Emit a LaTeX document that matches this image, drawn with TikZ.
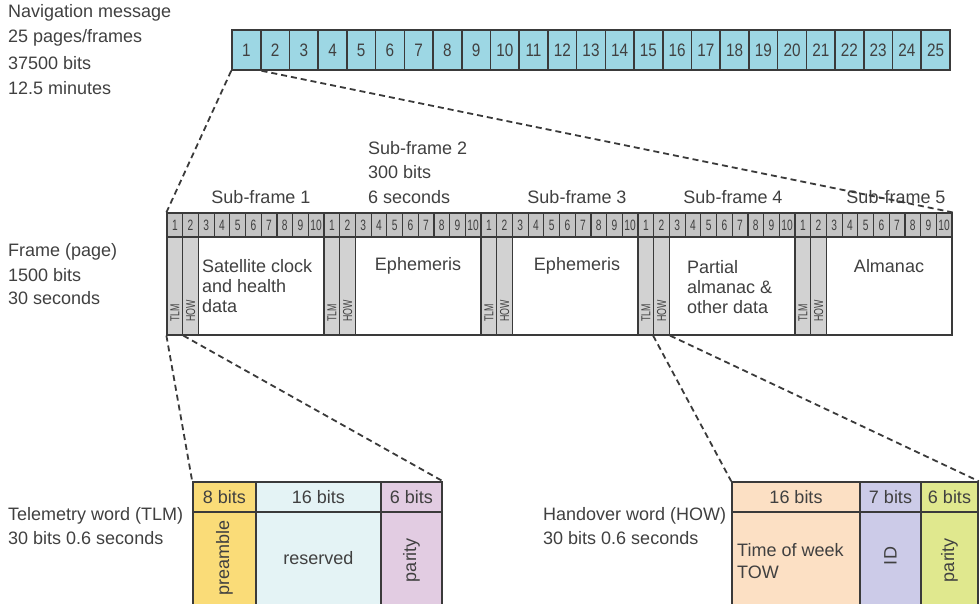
\documentclass[tikz,border=0pt]{standalone}
\usepackage{fontspec}
\setmainfont{Liberation Sans}
\newfontfamily\barf[FakeStretch=0.85]{Liberation Sans}
\newfontfamily\hdrf[FakeStretch=0.68]{Liberation Sans}
\definecolor{tc}{HTML}{404040}
\definecolor{lc}{HTML}{3A3A3A}
\definecolor{barc}{HTML}{9DD7E4}
\definecolor{hg}{HTML}{C4C4C4}
\definecolor{cg}{HTML}{D2D2D2}
\definecolor{yel}{HTML}{FADC78}
\definecolor{lcy}{HTML}{E4F3F5}
\definecolor{lpu}{HTML}{E2CCE2}
\definecolor{pea}{HTML}{FCE0C4}
\definecolor{lav}{HTML}{CCCBE8}
\definecolor{ygr}{HTML}{E0E88E}
\begin{document}
\begin{tikzpicture}[x=1pt,y=-1pt,
  txt/.style={font=\fontsize{18}{21}\selectfont, text=tc, inner sep=0pt},
  lbl/.style={txt, anchor=west},
  barcell/.style={draw=lc, line width=1.6pt, fill=barc, minimum width=28.72pt, minimum height=40pt, inner sep=0pt, font=\barf\fontsize{18}{18}\selectfont, text=tc},
  hcell/.style={draw=lc, line width=1.2pt, fill=hg, minimum width=15.7pt, minimum height=24pt, inner sep=0pt, font=\hdrf\fontsize{15}{15}\selectfont, text=tc},
  gcol/.style={draw=lc, line width=1.2pt, fill=cg, minimum width=15.7pt, minimum height=98pt, inner sep=0pt},
  dcell/.style={draw=lc, line width=1.2pt, fill=white, minimum width=125.6pt, minimum height=98pt, inner sep=0pt},
  rotw/.style={rotate=90, inner sep=0pt, font=\hdrf\fontsize{13}{13}\selectfont, text=tc},
  tabcell/.style={draw=lc, line width=1.6pt, inner sep=0pt, txt},
  rotl/.style={txt, rotate=90},
  dashln/.style={draw=lc, line width=1.8pt, dash pattern=on 6pt off 4pt}
]
\useasboundingbox (0,0) rectangle (980,604);
\clip (0,0) rectangle (980,604);

% left labels
\node[lbl] (n1) at (8,13) {Navigation message};
\node[lbl] (n2) at (8,38) {25 pages/frames};
\node[lbl] (n3) at (8,63) {37500 bits};
\node[lbl] (n4) at (8,88) {12.5 minutes};
\node[lbl] (f1) at (8,252) {Frame (page)};
\node[lbl] (f2) at (8,275) {1500 bits};
\node[lbl] (f3) at (8,298) {30 seconds};
\node[lbl] (t1) at (8,516) {Telemetry word (TLM)};
\node[lbl] (t2) at (8,538) {30 bits 0.6 seconds};
\node[lbl] (w1) at (543,516) {Handover word (HOW)};
\node[lbl] (w2) at (543,538) {30 bits 0.6 seconds};

% top bar
\foreach \i in {1,...,25} {
  \pgfmathsetmacro\cx{232+(\i-0.5)*28.72}
  \node[barcell] (c\i) at (\cx,50) {\i};
}

% frame body
\foreach \s in {1,...,5} {
  \pgfmathsetmacro\xa{167+(10*(\s-1)+0.5)*15.7}
  \pgfmathsetmacro\xb{167+(10*(\s-1)+1.5)*15.7}
  \pgfmathsetmacro\xd{167+(10*(\s-1)+6)*15.7}
  \node[gcol] (tlm\s) at (\xa,286) {};
  \node[gcol] (how\s) at (\xb,286) {};
  \node[dcell] (data\s) at (\xd,286) {};
  \node[rotw] (tlmt\s) at (\xa,313) {TLM};
  \node[rotw] (howt\s) at (\xb,311) {HOW};
}
% frame header
\foreach \s in {1,...,5} {
  \foreach \k in {1,...,10} {
    \pgfmathsetmacro\cx{167+(10*(\s-1)+\k-0.5)*15.7}
    \node[hcell] (h\s-\k) at (\cx,225) {\k};
  }
}

% sub-frame labels
\node[txt] (sf1) at (261,197) {Sub-frame 1};
\node[lbl] (sf2a) at (368,148) {Sub-frame 2};
\node[lbl] (sf2b) at (368,172) {300 bits};
\node[lbl] (sf2c) at (368,197) {6 seconds};
\node[txt] (sf3) at (577,197) {Sub-frame 3};
\node[txt] (sf4) at (733,197) {Sub-frame 4};
\node[txt] (sf5) at (896,197) {Sub-frame 5};

% data texts
\node[lbl] (d1a) at (202,266) {Satellite clock};
\node[lbl] (d1b) at (202,286) {and health};
\node[lbl] (d1c) at (202,306) {data};
\node[txt] (d2) at (418,266) {Ephemeris};
\node[txt] (d3) at (577,266) {Ephemeris};
\node[lbl] (d4a) at (687,267) {Partial};
\node[lbl] (d4b) at (687,287) {almanac \&};
\node[lbl] (d4c) at (687,307) {other data};
\node[txt] (d5) at (889,266) {Almanac};

% TLM table
\node[tabcell, fill=yel, minimum width=63pt, minimum height=96pt] (tab1) at (224.5,560) {};
\node[tabcell, fill=lcy, minimum width=125pt, minimum height=96pt] (tab2) at (318.5,560) {};
\node[tabcell, fill=lpu, minimum width=61pt, minimum height=96pt] (tab3) at (411.5,560) {};
\node[tabcell, fill=yel, minimum width=63pt, minimum height=30pt] (ta) at (224.5,497) {8 bits};
\node[tabcell, fill=lcy, minimum width=125pt, minimum height=30pt] (tb) at (318.5,497) {16 bits};
\node[tabcell, fill=lpu, minimum width=61pt, minimum height=30pt] (tc) at (411.5,497) {6 bits};
\node[rotl] (pre) at (224.5,558) {preamble};
\node[txt] (res) at (318.5,558) {reserved};
\node[rotl] (par1) at (411.5,560) {parity};

% HOW table
\node[tabcell, fill=pea, minimum width=128pt, minimum height=96pt] (hab) at (796,560) {};
\node[tabcell, fill=lav, minimum width=61pt, minimum height=96pt] (hbb) at (890.5,560) {};
\node[tabcell, fill=ygr, minimum width=57pt, minimum height=96pt] (hcb) at (949.5,560) {};
\node[tabcell, fill=pea, minimum width=128pt, minimum height=30pt] (ha) at (796,497) {16 bits};
\node[tabcell, fill=lav, minimum width=61pt, minimum height=30pt] (hb) at (890.5,497) {7 bits};
\node[tabcell, fill=ygr, minimum width=57pt, minimum height=30pt] (hc) at (949.5,497) {6 bits};
\node[lbl] (tow1) at (737,550) {Time of week};
\node[lbl] (tow2) at (737,572) {TOW};
\node[rotl] (id) at (890.5,556) {ID};
\node[rotl] (par2) at (949.5,560) {parity};

% dashed connectors
\draw[dashln] (c1.south west) -- (h1-1.north west);
\draw[dashln] (c1.south east) -- (h5-10.north east);
\draw[dashln] (tlm1.south west) -- (ta.north west);
\draw[dashln] (tlm1.south east) -- (tc.north east);
\draw[dashln] (how4.south west) -- (ha.north west);
\draw[dashln] (how4.south east) -- (hc.north east);
\end{tikzpicture}
\end{document}
